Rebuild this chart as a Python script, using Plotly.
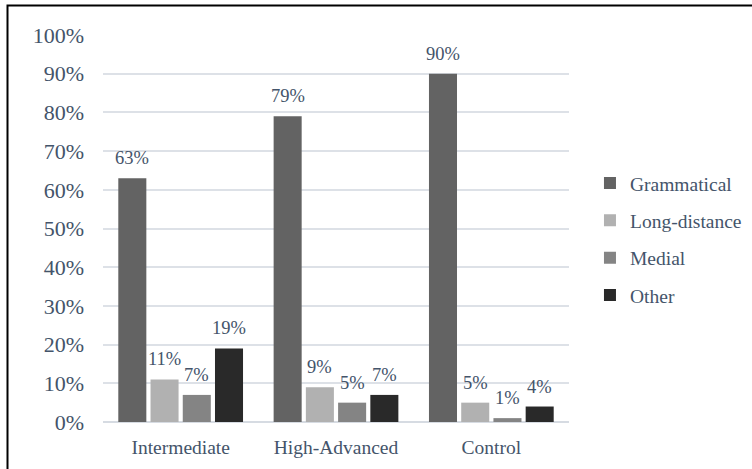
import plotly.graph_objects as go

categories = ["Intermediate", "High-Advanced", "Control"]
series_names = ["Grammatical", "Long-distance", "Medial", "Other"]
grammatical = [0.63, 0.79, 0.90]
long_distance = [0.11, 0.09, 0.05]
medial = [0.07, 0.05, 0.01]
other = [0.19, 0.07, 0.04]
y_ticks = [i / 10 for i in range(11)]

values = [grammatical, long_distance, medial, other]
colors = ["#636363", "#b1b1b1", "#848484", "#292929"]
TEXT = "#44546A"
FONT = "Liberation Serif"

fig = go.Figure()
for i, (name, vals, col) in enumerate(zip(series_names, values, colors)):
    fig.add_trace(go.Bar(
        x=categories, y=vals, name=name, legendgroup=name,
        marker=dict(color=col, line=dict(width=0)),
    ))

# data labels above the bars
W = 752 - 103 - 183
slot = W / 3 * (1 - 0.17) / 4
for i, vals in enumerate(values):
    for c, v in zip(categories, vals):
        fig.add_annotation(
            x=c, y=v, xref="x", yref="y", text=f"{round(v*100)}%",
            showarrow=False, xanchor="center", yanchor="bottom",
            xshift=(i - 1.5) * slot, yshift=8,
            font=dict(family=FONT, size=18.5, color=TEXT),
        )

# frame (top and left edges visible)
fig.add_shape(type="rect", xref="paper", yref="paper",
              x0=(7.5 - 103) / W, x1=1.6, y0=-0.3, y1=(422 - 5.5) / 387,
              line=dict(color="black", width=2), fillcolor="rgba(0,0,0,0)")

fig.update_layout(
    width=752, height=469,
    margin=dict(l=103, r=183, t=35, b=47, autoexpand=False),
    paper_bgcolor="white", plot_bgcolor="white",
    barmode="group", bargap=0.17, bargroupgap=0.13,
    font=dict(family=FONT, color=TEXT),
    showlegend=True,
    legend=dict(x=1.045, xanchor="left", y=0.472, yanchor="middle",
                font=dict(family=FONT, size=19.5, color=TEXT),
                tracegroupgap=9, itemwidth=30, bgcolor="rgba(0,0,0,0)"),
    xaxis=dict(showgrid=False, showline=False, zeroline=False, ticks="",
               automargin=False,
               tickfont=dict(family=FONT, size=19.5, color=TEXT),
               ticklabelstandoff=11),
    yaxis=dict(range=[0, 1], tickvals=y_ticks, tickformat=".0%",
               automargin=False,
               showgrid=True, gridcolor="#dde1e7", gridwidth=2,
               zeroline=True, zerolinecolor="#d6dbe2", zerolinewidth=2,
               showline=False, ticks="",
               tickfont=dict(family=FONT, size=22, color=TEXT),
               ticklabelstandoff=18),
)

fig.write_html("out.html", config={"displayModeBar": False},
               post_script="document.body.style.margin='0';document.body.style.overflow='hidden';")
